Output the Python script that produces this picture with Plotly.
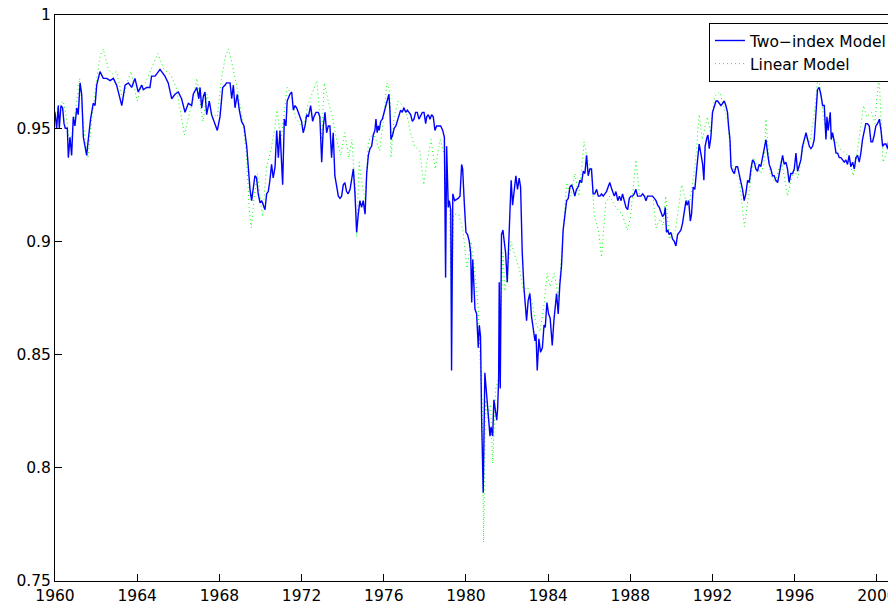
import plotly.graph_objects as go

# ---- Two-index model (blue, solid) ----
two_index_year = [
1960.00,1960.08,1960.16,1960.21,1960.29,1960.37,1960.44,1960.50,1960.60,1960.65,1960.73,1960.81,1960.89,1960.97,
1961.06,1961.13,1961.22,1961.30,1961.38,1961.54,1961.62,1961.73,1961.86,1961.95,
1962.03,1962.19,1962.35,1962.52,1962.68,1962.84,1963.00,1963.08,1963.25,1963.41,1963.57,1963.73,1963.89,
1964.05,1964.22,1964.30,1964.46,1964.62,1964.70,1964.87,1965.11,1965.35,1965.51,1965.68,1965.84,
1966.00,1966.16,1966.33,1966.49,1966.65,1966.73,1966.90,1967.00,1967.06,1967.14,1967.22,1967.30,1967.38,
1967.51,1967.62,1967.79,1967.90,1968.03,1968.16,1968.27,1968.35,1968.52,1968.60,1968.68,1968.76,1968.87,1968.97,
1969.08,1969.20,1969.33,1969.40,1969.49,1969.57,1969.65,1969.73,1969.81,1969.89,1969.98,
1970.06,1970.14,1970.22,1970.30,1970.38,1970.46,1970.54,1970.62,1970.71,1970.79,1970.87,1970.95,
1971.03,1971.08,1971.16,1971.24,1971.30,1971.43,1971.52,1971.60,1971.68,1971.76,1971.84,
1972.00,1972.08,1972.17,1972.25,1972.33,1972.44,1972.54,1972.60,1972.70,1972.81,1972.89,1972.98,
1973.06,1973.14,1973.22,1973.30,1973.38,1973.46,1973.54,1973.62,1973.71,1973.79,1973.87,1973.95,
1974.03,1974.11,1974.19,1974.27,1974.36,1974.44,1974.52,1974.60,1974.68,1974.76,1974.84,1974.92,
1975.00,1975.09,1975.17,1975.25,1975.33,1975.41,1975.49,1975.57,1975.62,1975.68,1975.73,1975.78,1975.85,1975.93,
1976.01,1976.11,1976.17,1976.25,1976.30,1976.35,1976.43,1976.51,1976.59,1976.65,1976.74,1976.82,1976.90,1976.98,
1977.07,1977.15,1977.23,1977.31,1977.39,1977.47,1977.55,1977.63,1977.71,1977.80,1977.88,1977.96,
1978.04,1978.09,1978.17,1978.25,1978.33,1978.41,1978.49,1978.57,1978.65,1978.77,1978.87,1978.95,
1979.01,1979.06,1979.14,1979.19,1979.26,1979.30,1979.36,1979.45,1979.62,1979.71,1979.79,1979.84,1979.92,
1980.00,1980.08,1980.16,1980.23,1980.28,1980.33,1980.40,1980.44,1980.52,1980.60,1980.65,1980.71,1980.76,1980.84,1980.92,
1981.00,1981.09,1981.17,1981.22,1981.30,1981.36,1981.43,1981.50,1981.54,1981.59,1981.62,1981.67,1981.73,1981.80,1981.85,1981.93,
1982.01,1982.06,1982.14,1982.20,1982.27,1982.35,1982.43,1982.51,1982.59,1982.66,1982.74,1982.82,1982.90,1982.95,
1983.03,1983.11,1983.19,1983.27,1983.36,1983.41,1983.47,1983.55,1983.63,1983.72,1983.80,1983.86,1983.94,
1984.02,1984.10,1984.20,1984.28,1984.41,1984.49,1984.57,1984.65,1984.73,1984.82,1984.90,1984.98,
1985.06,1985.14,1985.22,1985.30,1985.38,1985.46,1985.55,1985.63,1985.71,1985.79,1985.87,1985.95,
1986.03,1986.11,1986.19,1986.27,1986.36,1986.44,1986.52,1986.60,1986.68,1986.76,1986.84,1986.92,
1987.00,1987.10,1987.22,1987.30,1987.39,1987.47,1987.55,1987.62,1987.70,1987.79,1987.87,1987.95,
1988.03,1988.11,1988.19,1988.27,1988.35,1988.43,1988.51,1988.60,1988.68,1988.76,1988.84,1988.92,
1989.00,1989.08,1989.17,1989.25,1989.33,1989.41,1989.49,1989.57,1989.65,1989.70,1989.76,1989.82,1989.89,1989.97,
1990.06,1990.14,1990.22,1990.30,1990.38,1990.46,1990.54,1990.62,1990.71,1990.76,1990.84,1990.92,1990.98,
1991.06,1991.14,1991.23,1991.29,1991.35,1991.43,1991.52,1991.58,1991.64,1991.73,1991.78,1991.84,1991.92,
1992.00,1992.08,1992.17,1992.25,1992.33,1992.41,1992.49,1992.57,1992.65,1992.73,1992.78,1992.85,1992.90,1992.98,
1993.06,1993.14,1993.22,1993.30,1993.38,1993.46,1993.54,1993.62,1993.71,1993.79,1993.87,1993.95,
1994.03,1994.11,1994.19,1994.27,1994.35,1994.43,1994.52,1994.60,1994.68,1994.76,1994.84,1994.92,
1995.00,1995.08,1995.17,1995.25,1995.33,1995.41,1995.49,1995.57,1995.65,1995.73,1995.81,1995.90,1995.98,
1996.06,1996.14,1996.22,1996.30,1996.38,1996.47,1996.55,1996.63,1996.71,1996.79,1996.87,1996.95,
1997.03,1997.11,1997.19,1997.27,1997.36,1997.44,1997.52,1997.57,1997.63,1997.68,1997.73,1997.78,1997.84,1997.93,
1998.01,1998.09,1998.17,1998.25,1998.33,1998.41,1998.49,1998.57,1998.65,1998.73,1998.82,1998.90,1998.98,
1999.06,1999.14,1999.22,1999.30,1999.38,1999.46,1999.54,1999.63,1999.71,1999.79,1999.87,1999.95,
2000.03,2000.12,2000.20,2000.28,2000.36,2000.44,2000.52,2000.60,2000.68,2000.76,2000.85,2000.93,
]
two_index_value = [
0.957,0.950,0.960,0.950,0.960,0.959,0.952,0.950,0.950,0.937,0.946,0.938,0.955,0.951,
0.959,0.956,0.970,0.965,0.946,0.938,0.945,0.954,0.961,0.960,
0.969,0.975,0.972,0.972,0.971,0.972,0.969,0.966,0.960,0.969,0.970,0.968,0.972,
0.966,0.969,0.967,0.968,0.968,0.973,0.973,0.976,0.973,0.970,0.963,0.965,
0.966,0.963,0.957,0.961,0.960,0.965,0.968,0.963,0.968,0.959,0.964,0.966,0.956,
0.962,0.956,0.952,0.949,0.955,0.968,0.969,0.970,0.970,0.963,0.969,0.959,0.965,0.958,
0.953,0.951,0.942,0.932,0.923,0.918,0.923,0.929,0.928,0.921,0.917,
0.918,0.916,0.914,0.921,0.922,0.927,0.934,0.928,0.933,0.949,0.937,0.949,
0.930,0.925,0.954,0.951,0.962,0.965,0.966,0.958,0.960,0.959,0.957,
0.953,0.948,0.951,0.956,0.955,0.960,0.953,0.955,0.957,0.957,0.955,0.935,
0.951,0.957,0.948,0.951,0.951,0.937,0.948,0.929,0.923,0.920,0.919,0.920,
0.925,0.926,0.922,0.921,0.923,0.927,0.932,0.921,0.904,0.912,0.918,0.915,
0.918,0.912,0.930,0.938,0.941,0.942,0.947,0.949,0.954,0.948,0.951,0.949,0.953,0.954,
0.957,0.960,0.962,0.965,0.958,0.945,0.947,0.950,0.951,0.953,0.956,0.958,0.957,0.959,
0.957,0.958,0.957,0.956,0.953,0.954,0.957,0.957,0.954,0.956,0.957,0.957,
0.952,0.955,0.956,0.954,0.956,0.955,0.949,0.951,0.951,0.951,0.949,0.946,
0.884,0.942,0.915,0.918,0.914,0.843,0.921,0.918,0.919,0.920,0.934,0.932,0.917,
0.904,0.903,0.900,0.895,0.873,0.892,0.873,0.870,0.868,0.853,0.863,0.858,0.823,0.789,0.842,
0.833,0.823,0.814,0.818,0.814,0.830,0.826,0.821,0.826,0.839,0.882,0.835,0.903,0.905,0.901,0.895,
0.882,0.895,0.918,0.927,0.916,0.924,0.929,0.923,0.928,0.924,0.895,0.880,0.871,0.865,
0.874,0.877,0.867,0.862,0.856,0.859,0.843,0.857,0.851,0.853,0.863,0.862,0.873,
0.868,0.866,0.854,0.865,0.877,0.868,0.881,0.889,0.905,0.912,0.918,0.919,
0.924,0.925,0.923,0.920,0.923,0.924,0.927,0.926,0.931,0.930,0.938,0.929,
0.932,0.932,0.921,0.921,0.923,0.920,0.920,0.921,0.920,0.921,0.922,0.924,
0.926,0.923,0.920,0.922,0.918,0.920,0.918,0.921,0.918,0.915,0.914,0.919,
0.920,0.920,0.921,0.923,0.920,0.920,0.920,0.921,0.920,0.918,0.920,0.920,
0.920,0.920,0.919,0.918,0.916,0.915,0.913,0.911,0.912,0.915,0.904,0.905,0.903,0.904,
0.901,0.900,0.898,0.903,0.904,0.905,0.908,0.912,0.918,0.916,0.918,0.909,0.912,
0.924,0.923,0.932,0.939,0.943,0.939,0.934,0.927,0.942,0.946,0.947,0.941,0.946,
0.957,0.960,0.962,0.962,0.961,0.960,0.961,0.962,0.960,0.957,0.951,0.945,0.933,0.931,
0.930,0.933,0.933,0.930,0.926,0.923,0.918,0.921,0.927,0.926,0.932,0.936,
0.935,0.932,0.931,0.934,0.933,0.937,0.940,0.945,0.939,0.934,0.932,0.929,
0.929,0.927,0.926,0.930,0.933,0.938,0.934,0.935,0.932,0.926,0.930,0.930,0.932,
0.939,0.931,0.934,0.936,0.942,0.945,0.948,0.945,0.942,0.941,0.942,0.945,
0.958,0.967,0.968,0.965,0.960,0.960,0.945,0.955,0.949,0.953,0.957,0.945,0.948,0.944,
0.939,0.939,0.937,0.937,0.936,0.935,0.936,0.934,0.938,0.933,0.935,0.932,0.937,
0.938,0.935,0.939,0.945,0.949,0.952,0.952,0.951,0.944,0.944,0.947,0.951,
0.952,0.954,0.949,0.942,0.943,0.943,0.941,0.946,0.945,0.948,0.950,0.959,
]

# ---- Linear model (green, dotted) ----
linear_year = [
1960.0,1960.2,1960.4,1960.55,1960.7,1960.85,1961.0,1961.2,1961.4,1961.6,1961.8,
1962.0,1962.2,1962.35,1962.6,1962.8,1963.0,1963.3,1963.5,1963.7,
1964.0,1964.2,1964.4,1964.8,1965.0,1965.3,1965.6,1965.9,
1966.1,1966.3,1966.5,1966.7,1966.9,1967.2,1967.4,1967.6,1967.9,
1968.1,1968.3,1968.45,1968.7,1968.9,1969.1,1969.3,1969.45,1969.55,1969.7,1969.85,
1970.1,1970.3,1970.5,1970.7,1970.8,1971.0,1971.2,1971.3,1971.5,1971.7,1971.9,
1972.1,1972.3,1972.5,1972.75,1972.98,1973.1,1973.3,1973.5,1973.7,1973.9,
1974.1,1974.3,1974.45,1974.6,1974.68,1974.8,1974.95,1975.1,1975.25,1975.5,1975.8,
1976.0,1976.15,1976.3,1976.35,1976.5,1976.7,1976.9,1977.1,1977.3,1977.5,1977.75,1977.95,
1978.1,1978.3,1978.5,1978.75,1978.95,1979.05,1979.2,1979.3,1979.4,1979.65,1979.85,
1980.05,1980.25,1980.45,1980.6,1980.7,1980.78,1980.86,1980.95,
1981.05,1981.2,1981.3,1981.45,1981.6,1981.7,1981.8,1981.9,
1982.05,1982.2,1982.4,1982.6,1982.8,1983.0,1983.2,1983.4,1983.6,1983.8,1983.95,
1984.1,1984.3,1984.5,1984.7,1984.9,1985.1,1985.3,1985.5,1985.75,1985.95,
1986.1,1986.25,1986.45,1986.6,1986.8,1987.0,1987.3,1987.6,1987.85,
1988.0,1988.27,1988.45,1988.8,1989.1,1989.25,1989.45,1989.6,1989.72,1989.9,
1990.2,1990.5,1990.7,1990.9,1991.15,1991.35,1991.5,1991.75,1991.9,
1992.1,1992.35,1992.6,1992.75,1992.9,1993.1,1993.3,1993.55,1993.75,
1994.0,1994.35,1994.5,1994.6,1994.8,1995.05,1995.35,1995.65,1995.95,
1996.15,1996.5,1996.75,1997.0,1997.15,1997.4,1997.55,1997.8,
1998.0,1998.3,1998.6,1998.85,1999.05,1999.35,1999.5,1999.75,1999.9,
2000.1,2000.3,2000.5,2000.7,2000.92,
]
linear_value = [
0.957,0.960,0.962,0.955,0.944,0.948,0.958,0.972,0.950,0.937,0.955,
0.970,0.982,0.985,0.976,0.974,0.975,0.962,0.970,0.975,
0.962,0.968,0.970,0.979,0.983,0.976,0.974,0.968,
0.958,0.947,0.955,0.962,0.972,0.953,0.965,0.957,0.955,
0.972,0.982,0.985,0.975,0.966,0.955,0.940,0.915,0.906,0.920,0.930,
0.911,0.933,0.940,0.950,0.958,0.945,0.960,0.968,0.965,0.955,0.952,
0.950,0.960,0.965,0.971,0.945,0.970,0.962,0.955,0.945,0.938,
0.948,0.937,0.945,0.925,0.902,0.935,0.925,0.918,0.944,0.948,0.940,
0.955,0.970,0.966,0.937,0.955,0.962,0.960,0.957,0.948,0.942,0.940,0.925,
0.935,0.945,0.932,0.945,0.938,0.918,0.915,0.862,0.912,0.912,0.905,
0.888,0.900,0.885,0.870,0.845,0.830,0.767,0.830,
0.822,0.828,0.802,0.835,0.840,0.868,0.895,0.878,
0.890,0.900,0.893,0.888,0.878,0.880,0.874,0.864,0.860,0.872,0.886,
0.880,0.886,0.875,0.900,0.926,0.920,0.930,0.920,0.944,0.935,
0.932,0.911,0.905,0.893,0.917,0.920,0.915,0.912,0.905,
0.910,0.936,0.920,0.920,0.920,0.906,0.910,0.907,0.920,0.901,
0.905,0.925,0.918,0.918,0.933,0.956,0.945,0.955,0.948,
0.964,0.966,0.958,0.953,0.935,0.930,0.928,0.9065,0.920,
0.937,0.930,0.934,0.954,0.930,0.926,0.936,0.920,0.932,
0.928,0.946,0.944,0.960,0.975,0.955,0.947,0.945,
0.944,0.940,0.938,0.929,0.940,0.960,0.955,0.957,0.952,
0.974,0.935,0.940,0.945,0.971,
]

x_ticks = [1960, 1964, 1968, 1972, 1976, 1980, 1984, 1988, 1992, 1996, 2000]
y_ticks = [0.75, 0.8, 0.85, 0.9, 0.95, 1]
y_tick_text = ["0.75", "0.8", "0.85", "0.9", "0.95", "1"]

fig = go.Figure()
fig.add_trace(go.Scatter(
    x=linear_year, y=linear_value, mode="lines", name="Linear Model",
    line=dict(color="#00ff00", width=1, dash="1px,3px"),
))
fig.add_trace(go.Scatter(
    x=two_index_year, y=two_index_value, mode="lines", name="Two\u2212index Model",
    line=dict(color="#0000ff", width=1.4),
))

axis_common = dict(
    showgrid=False, zeroline=False, showline=True, linecolor="black", linewidth=1,
    mirror=True, ticks="inside", ticklen=7, tickwidth=1, tickcolor="black",
    tickfont=dict(family="DejaVu Sans", size=15.5, color="black"),
    automargin=False, ticklabeloverflow="allow",
)
fig.update_xaxes(range=[1960, 2000.93], tickvals=x_ticks, ticktext=[str(t) for t in x_ticks], **axis_common)
fig.update_yaxes(range=[0.75, 1.0], tickvals=y_ticks, ticktext=y_tick_text, **axis_common)

# The page body has an 8px default margin, so the figure is sized to fill the rest of the window.
fig.update_layout(
    width=888, height=600,
    margin=dict(l=47, r=0, t=7, b=27, autoexpand=False),
    paper_bgcolor="white", plot_bgcolor="white",
    showlegend=True,
    legend=dict(
        x=0.9964, y=0.986, xanchor="right", yanchor="top",
        traceorder="reversed",
        bgcolor="white", bordercolor="black", borderwidth=1,
        font=dict(family="DejaVu Sans", size=15.5, color="black"),
        tracegroupgap=0, itemwidth=30,
    ),
)

fig.write_html("out.html")
